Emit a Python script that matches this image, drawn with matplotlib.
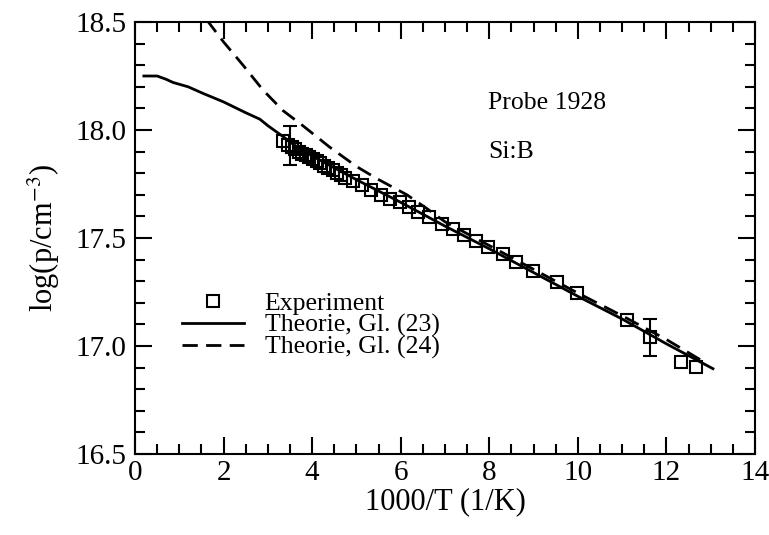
import matplotlib
matplotlib.use("Agg")
import matplotlib.pyplot as plt
from matplotlib.ticker import MultipleLocator, FormatStrFormatter

plt.rcParams['font.family'] = ['Liberation Serif', 'DejaVu Serif']
plt.rcParams['mathtext.fontset'] = 'stix'

# Experimental data
exp_x = [3.34, 3.46, 3.54, 3.62, 3.70, 3.78, 3.86, 3.94, 4.02, 4.10, 4.18, 4.27,
         4.36, 4.46, 4.56, 4.65, 4.74, 4.92, 5.12, 5.33, 5.55, 5.76, 5.98, 6.19,
         6.40, 6.64, 6.93, 7.18, 7.42, 7.70, 7.98, 8.31, 8.61, 8.99, 9.52, 9.98,
         11.10, 11.63, 12.33, 12.66]
exp_y = [17.95, 17.93, 17.92, 17.91, 17.90, 17.89, 17.885, 17.875, 17.865, 17.855,
         17.845, 17.835, 17.825, 17.815, 17.80, 17.79, 17.78, 17.765, 17.745, 17.72,
         17.70, 17.68, 17.665, 17.645, 17.62, 17.595, 17.565, 17.54, 17.515, 17.485,
         17.46, 17.425, 17.39, 17.345, 17.295, 17.245, 17.12, 17.04, 16.925, 16.905]

# Error bars
err_x = [3.50, 11.63]
err_y = [17.93, 17.04]
err_e = [0.09, 0.085]

# Theory Gl. (23)
th23_x = [0.2, 0.5, 0.7, 0.86, 1.2, 1.53, 2.0, 2.5, 2.82, 3.0, 3.34, 3.6, 4.0, 5.0,
          6.0, 7.0, 8.0, 9.0, 10.0, 11.0, 12.0, 13.05]
th23_y = [18.25, 18.25, 18.235, 18.22, 18.20, 18.17, 18.13, 18.08, 18.05, 18.02,
          17.97, 17.93, 17.88, 17.77, 17.665, 17.555, 17.45, 17.34, 17.23, 17.125,
          17.01, 16.895]

# Theory Gl. (24)
th24_x = [1.62, 1.99, 2.44, 2.89, 3.34, 3.79, 4.40, 5.01, 5.46, 6.14, 6.6, 7.0,
          8.0, 9.0, 10.0, 11.0, 12.0, 12.9]
th24_y = [18.51, 18.41, 18.30, 18.185, 18.09, 18.02, 17.92, 17.83, 17.775, 17.70,
          17.635, 17.575, 17.465, 17.355, 17.245, 17.14, 17.03, 16.92]

fig = plt.figure(figsize=(7.69, 5.35), dpi=100)
ax = fig.add_axes([135/769, 1-454/535, 620/769, 432/535])

ax.plot(exp_x, exp_y, linestyle='none', marker='s', ms=9, mfc='none', mec='black',
        mew=1.5, label='Experiment', zorder=3)
ax.errorbar(err_x, err_y, yerr=err_e, fmt='none', ecolor='black', elinewidth=1.5,
            capsize=5, capthick=1.5, zorder=3)
ax.plot(th23_x, th23_y, color='black', lw=2, label='Theorie, Gl. (23)')
ax.plot(th24_x, th24_y, color='black', lw=2, linestyle=(0, (5.5, 3)),
        label='Theorie, Gl. (24)')

ax.set_xlim(0, 14)
ax.set_ylim(16.5, 18.5)
ax.xaxis.set_major_locator(MultipleLocator(2))
ax.xaxis.set_minor_locator(MultipleLocator(0.5))
ax.yaxis.set_major_locator(MultipleLocator(0.5))
ax.yaxis.set_minor_locator(MultipleLocator(0.1))
ax.yaxis.set_major_formatter(FormatStrFormatter('%.1f'))
ax.tick_params(which='both', direction='in', top=True, right=True, labelsize=21,
               width=1.5)
ax.tick_params(which='major', length=12, pad=6)
ax.tick_params(axis='x', which='major', pad=4)
ax.tick_params(which='minor', length=7)
for s in ax.spines.values():
    s.set_linewidth(1.5)

ax.set_xlabel('1000/T (1/K)', fontsize=22, labelpad=1)
ax.set_ylabel('log(p/cm$^{-3}$)', fontsize=22, labelpad=10)

ax.text(0.569, 0.8125, 'Probe 1928', transform=ax.transAxes, fontsize=18.5,
        ha='left', va='center')
ax.text(0.569, 0.70, 'Si:B', transform=ax.transAxes, fontsize=18.5,
        ha='left', va='center')

leg = ax.legend(loc='lower left', bbox_to_anchor=(0.06, 0.195), frameon=False,
                fontsize=18.5, handlelength=2.4, handletextpad=0.8,
                labelspacing=-0.05, borderaxespad=0)

fig.savefig('out.png', dpi=100)
